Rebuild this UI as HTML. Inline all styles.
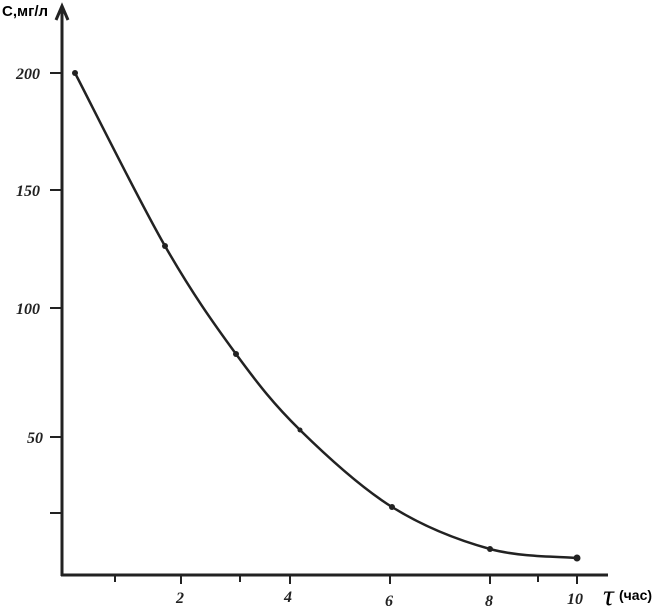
<!DOCTYPE html><html><head><style>body{margin:0;background:#fff}</style></head><body>
<svg width="662" height="608" xmlns="http://www.w3.org/2000/svg" style="display:block">
<rect width="662" height="608" fill="#fff"/>
<g stroke="#222" stroke-width="3" fill="none">
<line x1="62" y1="8" x2="62" y2="576"/>
<line x1="61" y1="575" x2="608" y2="575"/>
<polyline points="56,20 62,6 68,20" stroke-width="3"/>
</g>
<g stroke="#222" stroke-width="2">
<line x1="50" y1="73" x2="62" y2="73"/>
<line x1="50" y1="190" x2="62" y2="190"/>
<line x1="50" y1="308" x2="62" y2="308"/>
<line x1="50" y1="437" x2="62" y2="437"/>
<line x1="50" y1="513" x2="62" y2="513"/>
<line x1="115" y1="575" x2="115" y2="582"/>
<line x1="181" y1="575" x2="181" y2="584"/>
<line x1="240" y1="575" x2="240" y2="582"/>
<line x1="290" y1="575" x2="290" y2="584"/>
<line x1="390" y1="575" x2="390" y2="584"/>
<line x1="490" y1="575" x2="490" y2="584"/>
<line x1="538" y1="575" x2="538" y2="582"/>
<line x1="577" y1="575" x2="577" y2="584"/>
</g>
<path d="M75,73 C90,101.8 138.2,199.2 165,246 C191.8,292.8 213.5,323.3 236,354 C258.5,384.7 274,404.5 300,430 C326,455.5 360.3,487.2 392,507 C423.7,526.8 459.2,540.5 490,549 C520.8,557.5 562.5,556.5 577,558" stroke="#222" stroke-width="2.5" fill="none"/>
<g fill="#222"><circle cx="75" cy="73" r="3"/><circle cx="165" cy="246" r="3"/><circle cx="236" cy="354" r="3"/><circle cx="300" cy="430" r="2.5"/><circle cx="392" cy="507" r="3"/><circle cx="490" cy="549" r="3"/><circle cx="577" cy="558" r="3.5"/></g>
<g font-family="Liberation Serif, serif" font-style="italic" font-weight="bold" font-size="16" fill="#222">
<text x="16" y="79">200</text><text x="16" y="196">150</text><text x="16" y="314">100</text><text x="27" y="443">50</text>
<text x="176" y="603">2</text><text x="284" y="602">4</text><text x="385" y="606">6</text><text x="485" y="606">8</text><text x="567" y="604">10</text>
</g>
<text x="2" y="16" font-family="Liberation Sans, sans-serif" font-weight="bold" font-size="15" fill="#000">С,мг/л</text>
<text x="603" y="605" font-family="Liberation Serif, serif" font-style="italic" font-size="30" fill="#000">τ</text>
<text x="619" y="600" font-family="Liberation Sans, sans-serif" font-weight="bold" font-size="14" fill="#000">(час)</text>
</svg></body></html>
